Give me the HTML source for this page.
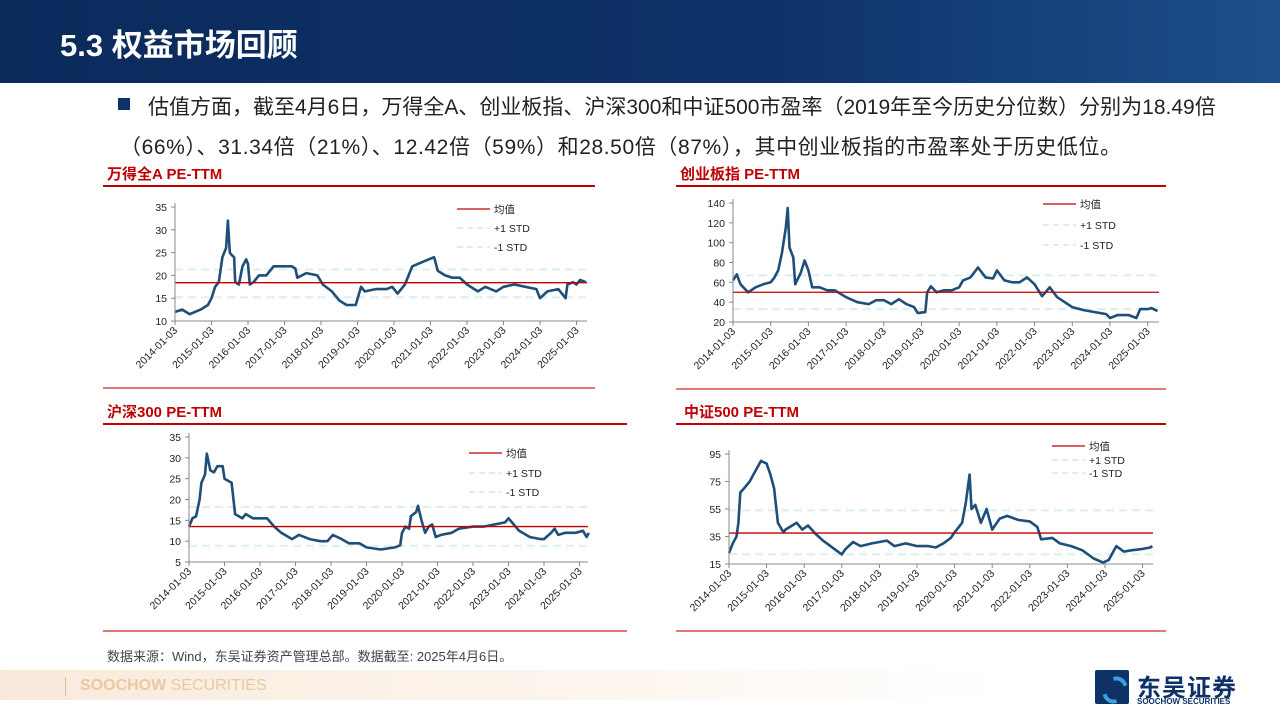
<!DOCTYPE html>
<html><head><meta charset="utf-8">
<style>
body{margin:0;width:1280px;height:720px;overflow:hidden;background:#fff;font-family:"Liberation Sans","Noto Sans CJK SC",sans-serif;position:relative}
.hdr{position:absolute;left:0;top:0;width:1280px;height:83px;background:linear-gradient(90deg,#0b2a5c 0%,#0e3268 60%,#1d4f8c 100%)}
.hdr h1{position:absolute;left:60px;top:20px;margin:0;color:#fff;font-size:31px;font-weight:bold}
.txt{position:absolute;font-size:21px;color:#222;white-space:nowrap}
.ctitle{position:absolute;color:#c00000;font-weight:bold;font-size:15px}
.rl{position:absolute;height:2px;background:#c00000}
.bl{position:absolute;height:2px;background:#e07a7a}
svg{position:absolute;left:0;top:0}
</style></head><body>
<div class="hdr"><h1>5.3 权益市场回顾</h1></div>
<div style="position:absolute;left:118px;top:98px;width:12px;height:12px;background:#0e3268"></div>
<div class="txt" style="left:148px;top:91px">估值方面，截至4月6日，万得全A、创业板指、沪深300和中证500市盈率（2019年至今历史分位数）分别为18.49倍</div>
<div class="txt" style="left:120px;top:131px;letter-spacing:0.6px">（66%）、31.34倍（21%）、12.42倍（59%）和28.50倍（87%），其中创业板指的市盈率处于历史低位。</div>
<div class="ctitle" style="left:107px;top:163px">万得全A PE-TTM</div>
<div class="ctitle" style="left:680px;top:163px">创业板指 PE-TTM</div>
<div class="ctitle" style="left:107px;top:401px">沪深300 PE-TTM</div>
<div class="ctitle" style="left:684px;top:401px">中证500 PE-TTM</div>
<div class="rl" style="left:103px;top:185px;width:492px"></div>
<div class="rl" style="left:676px;top:185px;width:490px"></div>
<div class="rl" style="left:103px;top:423px;width:524px"></div>
<div class="rl" style="left:676px;top:423px;width:490px"></div>
<div class="bl" style="left:103px;top:387px;width:492px"></div>
<div class="bl" style="left:676px;top:388px;width:490px"></div>
<div class="bl" style="left:103px;top:630px;width:524px"></div>
<div class="bl" style="left:676px;top:630px;width:490px"></div>
<div style="position:absolute;left:107px;top:646px;font-size:13px;color:#444">数据来源：Wind，东吴证券资产管理总部。数据截至: 2025年4月6日。</div>
<div style="position:absolute;left:0;top:670px;width:1000px;height:30px;background:linear-gradient(90deg,#f8eadb,#fdf6ee 60%,#fff)"></div>
<div style="position:absolute;left:65px;top:677px;width:1px;height:19px;background:#e2b98c"></div>
<div style="position:absolute;left:80px;top:677px;font-size:16px;color:#e9c9a3"><b>SOOCHOW</b> SECURITIES</div>
<div style="position:absolute;left:1095px;top:670px;width:150px;height:40px">
 <div style="position:absolute;left:0;top:0;width:34px;height:34px;background:#0e3268;border-radius:2px"></div>
 <div style="position:absolute;left:8px;top:6px;width:16px;height:20px;border:4px solid #3aa0e0;border-radius:50%;border-left-color:transparent;border-right-color:transparent;transform:rotate(30deg)"></div>
 <div style="position:absolute;left:42px;top:-2px;font-size:24px;color:#0e3268;font-weight:bold;letter-spacing:1px">东吴证券</div>
 <div style="position:absolute;left:42px;top:27px;font-size:8px;color:#0e3268;font-weight:bold">SOOCHOW SECURITIES</div>
</div>
<svg id="svg" width="1280" height="720"></svg>
<script>
const tickYears=["2014-01-03","2015-01-03","2016-01-03","2017-01-03","2018-01-03","2019-01-03","2020-01-03","2021-01-03","2022-01-03","2023-01-03","2024-01-03","2025-01-03"];
const legendLabels=["均值","+1 STD","-1 STD"];
// chart 1 万得全A
const c1Dates=[2014.0,2014.2,2014.4,2014.7,2014.9,2015.0,2015.1,2015.2,2015.3,2015.4,2015.45,2015.5,2015.55,2015.62,2015.65,2015.75,2015.85,2015.95,2016.0,2016.05,2016.15,2016.3,2016.5,2016.7,2017.0,2017.2,2017.3,2017.35,2017.6,2017.9,2018.05,2018.3,2018.5,2018.7,2018.95,2019.1,2019.2,2019.5,2019.8,2019.95,2020.1,2020.3,2020.5,2020.8,2021.1,2021.2,2021.4,2021.6,2021.8,2022.0,2022.3,2022.5,2022.8,2023.0,2023.3,2023.6,2023.9,2024.0,2024.2,2024.5,2024.7,2024.75,2024.9,2025.0,2025.1,2025.26];
const c1Values=[12,12.5,11.5,12.5,13.5,15,17.5,18.5,24,26,32,25,24.5,24,18.5,18,22,23.5,22.5,18,18.5,20,20,22,22,22,21.5,19.5,20.5,20,18,16.5,14.5,13.5,13.5,17.5,16.5,17,17,17.5,16,18,22,23,24,21,20,19.5,19.5,18,16.5,17.5,16.5,17.5,18,17.5,17,15,16.5,17,15,18,18.5,18,19,18.5];
const c1Ticks=[10,15,20,25,30,35];
const c1Stats=[18.4,21.3,15.2];
// chart 2 创业板指
const c2Dates=[2014.0,2014.1,2014.2,2014.4,2014.6,2014.8,2015.0,2015.1,2015.2,2015.3,2015.4,2015.45,2015.5,2015.6,2015.65,2015.8,2015.9,2016.0,2016.1,2016.3,2016.5,2016.7,2017.0,2017.3,2017.6,2017.8,2018.0,2018.2,2018.4,2018.6,2018.8,2018.9,2019.1,2019.15,2019.25,2019.4,2019.6,2019.8,2020.0,2020.1,2020.3,2020.5,2020.7,2020.9,2021.0,2021.2,2021.4,2021.6,2021.8,2022.0,2022.2,2022.4,2022.6,2022.8,2023.0,2023.3,2023.6,2023.9,2024.0,2024.2,2024.5,2024.7,2024.8,2025.0,2025.1,2025.26];
const c2Values=[62,68,58,50,55,58,60,65,72,90,115,135,95,85,58,70,82,72,55,55,52,52,45,40,38,42,42,38,43,38,35,29,30,50,56,50,52,52,55,62,65,75,65,64,72,62,60,60,65,58,46,55,45,40,35,32,30,28,24,27,27,24,33,33,34,31];
const c2Ticks=[20,40,60,80,100,120,140];
const c2Stats=[50,67,33];
// chart 3 沪深300
const c3Dates=[2014.0,2014.1,2014.2,2014.3,2014.35,2014.45,2014.5,2014.6,2014.7,2014.8,2014.95,2015.0,2015.2,2015.3,2015.5,2015.6,2015.8,2016.0,2016.2,2016.4,2016.6,2016.9,2017.1,2017.4,2017.7,2017.9,2018.05,2018.3,2018.5,2018.8,2019.0,2019.4,2019.8,2019.95,2020.0,2020.1,2020.2,2020.25,2020.4,2020.45,2020.55,2020.65,2020.75,2020.85,2020.95,2021.1,2021.4,2021.6,2022.0,2022.3,2022.6,2022.9,2023.0,2023.1,2023.3,2023.6,2023.9,2024.0,2024.2,2024.3,2024.4,2024.6,2024.9,2025.1,2025.2,2025.26];
const c3Values=[13.5,15.5,16,20,24,26,31,27,26.5,28,28,25,24,16.5,15.5,16.5,15.5,15.5,15.5,13.5,12,10.5,11.5,10.5,10,10,11.5,10.5,9.5,9.5,8.5,8,8.5,9,12,13.5,13,16,17,18.5,15,12,13.5,14,11,11.5,12,13,13.5,13.5,14,14.5,15.5,14.5,12.5,11,10.5,10.5,12,13,11.5,12,12,12.5,11,12];
const c3Ticks=[5,10,15,20,25,30,35];
const c3Stats=[13.5,18.2,8.9];
// chart 4 中证500
const c4Dates=[2014.0,2014.1,2014.2,2014.25,2014.3,2014.4,2014.55,2014.65,2014.75,2014.85,2015.0,2015.1,2015.2,2015.3,2015.45,2015.5,2015.8,2015.95,2016.1,2016.3,2016.5,2016.8,2017.0,2017.1,2017.3,2017.5,2017.8,2018.0,2018.2,2018.4,2018.7,2019.0,2019.3,2019.5,2019.7,2019.9,2020.0,2020.2,2020.3,2020.4,2020.45,2020.55,2020.7,2020.85,2021.0,2021.2,2021.4,2021.7,2022.0,2022.2,2022.3,2022.6,2022.8,2023.1,2023.4,2023.7,2023.95,2024.1,2024.3,2024.5,2024.7,2025.0,2025.2,2025.26];
const c4Values=[23,30,35,45,67,70,75,80,85,90,88,80,70,45,38,40,45,40,43,37,32,26,22,26,31,28,30,31,32,28,30,28,28,27,30,34,38,45,60,80,55,58,45,55,40,48,50,47,46,42,33,34,30,28,25,19,16,18,28,24,25,26,27,28];
const c4Ticks=[15,35,55,75,95];
const c4Stats=[37.5,54,22];

const svg=document.getElementById('svg');
const NS='http://www.w3.org/2000/svg';
function mk(tag,attrs,parent){const e=document.createElementNS(NS,tag);for(const k in attrs)e.setAttribute(k,attrs[k]);(parent||svg).appendChild(e);return e;}
function chart(id,dates,vals,ticks,stats,g){
  const grp=mk('g',{});
  
  
  const ymin=ticks[0],ymax=ticks[ticks.length-1];
  const X=d=>g.x0+(d-2014)*g.yr, Y=v=>g.yb-(v-ymin)/(ymax-ymin)*(g.yb-g.yt);
  [stats[1],stats[2]].forEach((s,i)=>{const l=mk('line',{x1:g.x0,x2:g.x1,y1:Y(s),y2:Y(s),stroke:'#dcefef','stroke-width':2,'stroke-dasharray':'8,5'},grp);
    
    });
  const p=mk('polyline',{points:dates.map((d,i)=>X(d).toFixed(1)+','+Y(vals[i]).toFixed(1)).join(' '),fill:'none',stroke:'#1f4e79','stroke-width':2.6,'stroke-linejoin':'round'},grp);
  
  
  const m=mk('line',{x1:g.x0,x2:g.x1,y1:Y(stats[0]),y2:Y(stats[0]),stroke:'#c00000','stroke-width':1.3},grp);
  
  
  mk('line',{x1:g.x0,x2:g.x0,y1:g.yt-4,y2:g.yb,stroke:'#888'},grp);
  mk('line',{x1:g.x0,x2:g.x1,y1:g.yb,y2:g.yb,stroke:'#888'},grp);
  ticks.forEach(t=>{mk('line',{x1:g.x0-4,x2:g.x0,y1:Y(t),y2:Y(t),stroke:'#888'},grp);
    const tx=mk('text',{x:g.x0-8,y:Y(t)+4,'text-anchor':'end','font-size':10.5,fill:'#222'},grp);tx.textContent=t;
    
    });
  tickYears.forEach((lab,i)=>{const x=X(2014+i);mk('line',{x1:x,x2:x,y1:g.yb,y2:g.yb+4,stroke:'#888'},grp);
    const tx=mk('text',{x:x+3,y:g.yb+10,'text-anchor':'end','font-size':10.5,fill:'#222',transform:`rotate(-45 ${x+3} ${g.yb+10})`},grp);tx.textContent=lab;
    
    });
  legendLabels.forEach((lab,i)=>{const y=g.ly[i];
    mk('line',{x1:g.lx,x2:g.lx+33,y1:y,y2:y,stroke:i?'#dcefef':'#c00000','stroke-width':i?2:1.3,'stroke-dasharray':i?'6,4':'none'},grp);
    const tx=mk('text',{x:g.lx+37,y:y+4,'font-size':10.5,fill:'#222'},grp);tx.textContent=lab;
    
    });
}
chart('chart-wind-a',c1Dates,c1Values,c1Ticks,c1Stats,{x0:175,x1:587,yr:36.5,yt:207,yb:321,lx:457,ly:[209,228,247]});
chart('chart-chinext',c2Dates,c2Values,c2Ticks,c2Stats,{x0:733,x1:1159,yr:37.7,yt:203,yb:322,lx:1043,ly:[204,225,245]});
chart('chart-csi300',c3Dates,c3Values,c3Ticks,c3Stats,{x0:189,x1:588,yr:35.5,yt:437,yb:562,lx:469,ly:[453,473,492]});
chart('chart-csi500',c4Dates,c4Values,c4Ticks,c4Stats,{x0:729,x1:1153,yr:37.6,yt:454,yb:564,lx:1052,ly:[446,460,473]});
</script>
</body></html>
